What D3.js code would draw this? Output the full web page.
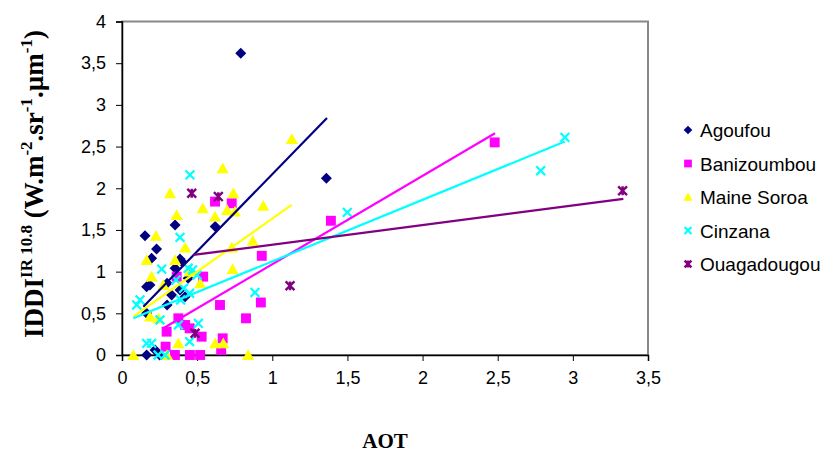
<!DOCTYPE html>
<html><head><meta charset="utf-8">
<script src="https://cdn.jsdelivr.net/npm/d3@7"></script>
<style>body{margin:0;background:#fff}</style>
</head><body><svg id="c" width="838" height="456"></svg>
<script>
const seriesNames = ["Agoufou", "Banizoumbou", "Maine Soroa", "Cinzana", "Ouagadougou"];
const seriesColors = ["#000080", "#FF00FF", "#FFFF00", "#00FFFF", "#800080"];
const seriesShapes = ["diamond", "square", "triangle", "cross", "star"];

const agoufou = [[0.79,3.62],[1.36,2.12],[0.62,1.54],[0.353,1.56],[0.153,1.43],[0.23,1.27],[0.386,1.15],
  [0.197,1.16],[0.397,1.12],[0.353,1.04],[0.164,0.82],[0.186,0.84],[0.386,0.78],[0.33,0.72],[0.42,0.70],
  [0.164,0.50],[0.30,0.60],[0.22,0.06],[0.164,0.0],[0.25,0.0],[0.30,0.86],[0.44,0.92]];
const banizoumbou = [[2.48,2.55],[1.39,1.61],[0.619,1.84],[0.73,1.82],[0.93,1.19],[0.924,0.63],[0.825,0.44],
  [0.67,0.20],[0.66,0.06],[0.652,0.60],[0.364,0.94],[0.54,0.94],[0.375,0.44],[0.45,0.32],[0.297,0.28],
  [0.53,0.22],[0.352,0.0],[0.452,0.0],[0.52,0.0],[0.29,0.10],[0.42,0.36]];
const maineSoroa = [[1.13,2.59],[0.67,2.24],[0.741,1.94],[0.32,1.94],[0.537,1.76],[0.70,1.74],[0.752,1.72],
  [0.94,1.79],[0.364,1.68],[0.619,1.66],[0.226,1.43],[0.42,1.29],[0.87,1.37],[0.73,1.29],[0.164,1.14],
  [0.353,1.14],[0.736,1.03],[0.197,0.94],[0.275,0.84],[0.52,0.86],[0.186,0.46],[0.242,0.44],[0.375,0.14],
  [0.62,0.14],[0.674,0.14],[0.84,0.0],[0.075,0.0],[0.30,0.0],[0.45,1.0]];
const cinzana = [[2.947,2.61],[2.786,2.21],[1.499,1.71],[0.452,2.16],[0.386,1.41],[0.264,1.03],[0.44,1.04],
  [0.47,1.02],[0.41,0.80],[0.45,0.74],[0.39,0.66],[0.098,0.60],[0.12,0.66],[0.253,0.42],[0.375,0.36],
  [0.508,0.38],[0.45,0.16],[0.164,0.14],[0.197,0.14],[0.24,0.0],[0.286,0.0],[0.885,0.75],[0.50,0.96],[0.36,0.90]];
const ouagadougou = [[3.331,1.97],[0.464,1.94],[0.641,1.90],[1.118,0.83],[0.486,0.26]];

// trend line endpoints [x0, y0, x1, y1]
const trendAgoufou = [0.142, 0.58, 1.364, 2.843];
const trendBanizoumbou = [0.275, 0.32, 2.482, 2.66];
const trendMaineSoroa = [0.075, 0.46, 1.129, 1.80];
const trendCinzana = [0.075, 0.44, 2.947, 2.56];
const trendOuagadougou = [0.475, 1.20, 3.336, 1.872];

const xTicks = [0, 0.5, 1, 1.5, 2, 2.5, 3, 3.5];
const yTicks = [0, 0.5, 1, 1.5, 2, 2.5, 3, 3.5, 4];

const allData = [agoufou, banizoumbou, maineSoroa, cinzana, ouagadougou];
const allTrends = [trendAgoufou, trendBanizoumbou, trendMaineSoroa, trendCinzana, trendOuagadougou];

const svg = d3.select("#c");
const L = 122, R = 648, T = 21.5, B = 355;
const x = d3.scaleLinear().domain([0, 3.5]).range([L, R]);
const y = d3.scaleLinear().domain([0, 4]).range([B, T]);
const fmt = d => String(d).replace(".", ",");

// plot border (gray)
svg.append("rect").attr("x", L).attr("y", T).attr("width", R - L).attr("height", B - T)
  .attr("fill", "none").attr("stroke", "#888").attr("stroke-width", 2);

const font = "'Liberation Sans', Arial, sans-serif";
const xAxis = svg.append("g").attr("transform", `translate(0,${B})`)
  .call(d3.axisBottom(x).tickValues(xTicks).tickFormat(fmt).tickSize(6).tickPadding(10));
const yAxis = svg.append("g").attr("transform", `translate(${L},0)`)
  .call(d3.axisLeft(y).tickValues(yTicks).tickFormat(fmt).tickSize(6).tickPadding(10));
[xAxis, yAxis].forEach(g => {
  g.select(".domain").attr("stroke", "#000").attr("stroke-width", 1.5);
  g.selectAll(".tick line").attr("stroke", "#000");
  g.selectAll("text").attr("font-family", font).attr("font-size", 18).attr("fill", "#000");
});

function drawMarker(g, shape, color, cx, cy, s) {
  if (shape === "diamond") {
    g.append("path").attr("d", `M${cx},${cy - s}L${cx + s},${cy}L${cx},${cy + s}L${cx - s},${cy}Z`).attr("fill", color);
  } else if (shape === "square") {
    g.append("rect").attr("x", cx - s * 0.9).attr("y", cy - s * 0.9).attr("width", s * 1.8).attr("height", s * 1.8).attr("fill", color);
  } else if (shape === "triangle") {
    g.append("path").attr("d", `M${cx},${cy - s * 1.05}L${cx + s * 1.1},${cy + s * 0.9}L${cx - s * 1.1},${cy + s * 0.9}Z`).attr("fill", color);
  } else if (shape === "cross") {
    const k = s * 0.8;
    g.append("path").attr("d", `M${cx - k},${cy - k}L${cx + k},${cy + k}M${cx - k},${cy + k}L${cx + k},${cy - k}`)
      .attr("stroke", color).attr("stroke-width", 2.2).attr("fill", "none");
  } else if (shape === "star") {
    const k = s * 0.8;
    g.append("path").attr("d", `M${cx - k},${cy - k}L${cx + k},${cy + k}M${cx - k},${cy + k}L${cx + k},${cy - k}M${cx},${cy - k}L${cx},${cy + k}`)
      .attr("stroke", color).attr("stroke-width", 2.4).attr("fill", "none");
  }
}

const pts = svg.append("g");
allData.forEach((data, i) => {
  const g = pts.append("g");
  data.forEach(d => drawMarker(g, seriesShapes[i], seriesColors[i], x(d[0]), y(d[1]), 5.5));
});

const trends = svg.append("g");
allTrends.forEach((t, i) => {
  trends.append("line").attr("x1", x(t[0])).attr("y1", y(t[1])).attr("x2", x(t[2])).attr("y2", y(t[3]))
    .attr("stroke", seriesColors[i]).attr("stroke-width", 2.2);
});

// legend
const leg = svg.append("g");
seriesNames.forEach((n, i) => {
  const cy = 130 + i * 33.5;
  drawMarker(leg, seriesShapes[i], seriesColors[i], 688, cy, 4.3);
  leg.append("text").attr("x", 700).attr("y", cy + 7).text(n)
    .attr("font-family", font).attr("font-size", 19).attr("fill", "#000");
});

// axis titles
const serif = "'Liberation Serif', 'Times New Roman', serif";
svg.append("text").attr("x", 385).attr("y", 448).attr("text-anchor", "middle")
  .attr("font-family", serif).attr("font-weight", "bold").attr("font-size", 21).text("AOT");

const yt = svg.append("text").attr("transform", "translate(43,184) rotate(-90)")
  .attr("text-anchor", "middle").attr("font-family", serif).attr("font-weight", "bold").attr("font-size", 27);
yt.append("tspan").text("IDDI");
yt.append("tspan").attr("font-size", 17).attr("dy", -11).text("IR 10.8");
yt.append("tspan").attr("dy", 11).text(" (W.m");
yt.append("tspan").attr("font-size", 17).attr("dy", -11).text("-2");
yt.append("tspan").attr("dy", 11).text(".sr");
yt.append("tspan").attr("font-size", 17).attr("dy", -11).text("-1");
yt.append("tspan").attr("dy", 11).text(".µm");
yt.append("tspan").attr("font-size", 17).attr("dy", -11).text("-1");
yt.append("tspan").attr("dy", 11).text(")");
</script></body></html>
